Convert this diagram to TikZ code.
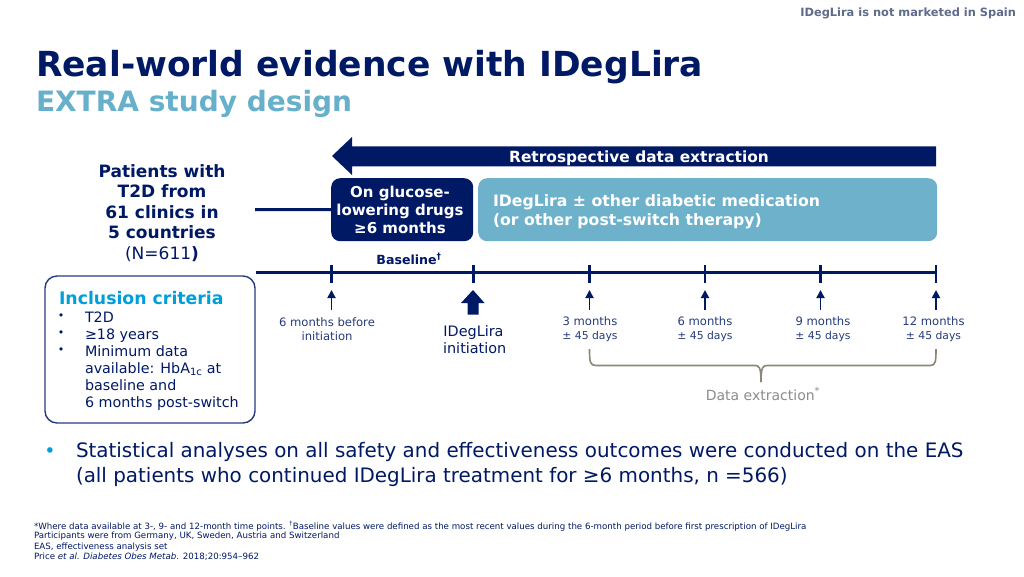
\documentclass[tikz,border=0pt]{standalone}
\usepackage{fontspec}
\setmainfont{DejaVu Sans}
\usetikzlibrary{arrows.meta}
\definecolor{navy}{HTML}{001965}
\definecolor{lblue}{HTML}{6EB1CB}
\definecolor{tblue}{HTML}{66B0CB}
\definecolor{cyanb}{HTML}{009FDA}
\definecolor{dgray}{HTML}{8C8778}
\definecolor{greyt}{HTML}{8C8C8C}
\definecolor{topg}{HTML}{5F6B8A}
\newcommand{\fs}[1]{\fontsize{#1}{#1}\selectfont}
\newcommand{\smb}{\fontsize{10.8}{11.6}\selectfont}
\tikzset{
 txt/.style={inner sep=0pt,outer sep=0pt,text=navy,align=left},
 ctr/.style={inner sep=0pt,outer sep=0pt,text=navy,align=center},
 axisline/.style={draw=navy,line width=3pt},
 tick/.style={draw=navy,line width=2.8pt},
 uparrow/.style={draw=navy,line width=1.8pt,-{Triangle[width=8pt,length=8pt]},shorten >=0pt},
 foot/.style={txt,font=\fs{8.65}},
 small/.style={ctr,font=\fs{11.6},text=navy!85!white}
}
\begin{document}
\begin{tikzpicture}[x=1pt,y=-1pt]
\useasboundingbox (0,0) rectangle (1024,576);
\fill[white] (0,0) rectangle (1024,576);
\node[txt,anchor=east,text=topg,font=\bfseries\fs{11.4}] (top) at (1016,13) {IDegLira is not marketed in Spain};
\node[txt,anchor=west,font=\bfseries\fs{34.5}] (title) at (36,67) {Real-world evidence with IDegLira};
\node[txt,anchor=west,text=tblue,font=\bfseries\fs{28}] (sub) at (36,104) {EXTRA study design};

% big arrow
\fill[navy] (332,156) -- (352,137) -- (352,146.3) -- (936,146.3) -- (936,166.3) -- (352,166.3) -- (352,175) -- cycle;
\node[ctr,text=white,font=\bfseries\fs{15.4}] (retro) at (639,158) {Retrospective data extraction};

\node[ctr,font=\fs{17},align=center] (pat) at (162,213) {\bfseries Patients with\\[3.5pt]\bfseries T2D from\\[3.5pt]\bfseries 61 clinics in\\[3.5pt]\bfseries 5 countries\\[3.5pt](N=611{\bfseries)}};

\node[fill=navy,rounded corners=9pt,minimum width=142pt,minimum height=63pt,inner sep=0pt,anchor=north west] (glu) at (331,178) {};
\node[ctr,text=white,font=\bfseries\fs{15}] (glut) at (400,210) {On glucose-\\[3pt]lowering drugs\\[3pt]≥6 months};
\node[fill=lblue,rounded corners=9pt,minimum width=459pt,minimum height=63pt,inner sep=0pt,anchor=north west] (ide) at (478,178) {};
\node[txt,anchor=west,text=white,font=\bfseries\fs{15.7}] (idet) at (493,212) {IDegLira ± other diabetic medication\\[3.3pt](or other post-switch therapy)};

\coordinate (pa) at (255,209.5);
\draw[navy,line width=3pt] (pa) -- (glu.west);

\node[txt,anchor=center,font=\bfseries\fs{12.6}] (base) at (409,259) {Baseline\textsuperscript{†}};

% timeline
\coordinate (ts) at (256,272.4);
\coordinate (te) at (936,272.4);
\draw[axisline] (ts) -- (te);
\foreach \n/\x in {a/331.5,b/473.5,c/589.5,d/705,e/820.5,f/936}{
 \coordinate (t\n) at (\x,272);
 \draw[tick] (\x,265) -- (\x,282.5);
}
\foreach \n/\x in {a/331.5,c/589.5,d/705,e/820.5,f/936}{
 \coordinate (u\n) at (\x,310);
 \coordinate (v\n) at (\x,290);
 \draw[uparrow] (u\n) -- (v\n);
}
\fill[navy] (473,290) -- (484.5,303) -- (478.5,303) -- (478.5,314.5) -- (467.5,314.5) -- (467.5,303) -- (461,303) -- cycle;

\node[small] (la) at (327,329.5) {6 months before\\[2.4pt]initiation};
\node[ctr,font=\fs{14.4}] (lb) at (473.5,340) {IDegLira\\[2.6pt]\,initiation};
\node[small] (lc) at (590,329.5) {3 months\\[2.4pt]{\smb ± 45 days}};
\node[small] (ld) at (705,329.5) {6 months\\[2.4pt]{\smb ± 45 days}};
\node[small] (le) at (823,329.5) {9 months\\[2.4pt]{\smb ± 45 days}};
\node[small] (lf) at (933.5,329.5) {12 months\\[2.4pt]{\smb ± 45 days}};

% brace
\draw[dgray,line width=1.6pt,line join=round] (589.5,349) .. controls (589.5,362) and (590,365.5) .. (596,365.5) -- (755,365.5) .. controls (759,365.5) and (761,367) .. (761,382);
\draw[dgray,line width=1.6pt,line join=round] (936,349) .. controls (936,362) and (935.5,365.5) .. (930,365.5) -- (767,365.5) .. controls (763,365.5) and (761,367) .. (761,382);
\node[ctr,text=greyt,font=\fs{14}] (dx) at (763,394) {Data extraction\textsuperscript{*}};

% inclusion
\draw[navy!85!white,line width=1.4pt,rounded corners=12pt] (45,276) rectangle (255,423);
\node[txt,anchor=west,text=cyanb,font=\bfseries\fs{17.3}] (inc) at (59,298) {Inclusion criteria};
\foreach \y in {317,334,351}{\node[txt,font=\fs{11}] at (61,\y) {•};}
\node[txt,anchor=north west,font=\fs{14.3},align=left] (list) at (85,311.5) {T2D\\[2.7pt]≥18 years\\[2.7pt]Minimum data\\[2.7pt]available: HbA\textsubscript{1c} at\\[2.7pt]baseline and\\[2.7pt]6 months post-switch};

% statement
\node[txt,text=cyanb,font=\fs{19}] (bul) at (50,453) {•};
\node[txt,anchor=north west,font=\fs{19.9},align=left] (st) at (76,442) {Statistical analyses on all safety and effectiveness outcomes were conducted on the EAS\\[5pt](all patients who continued IDegLira treatment for ≥6 months, n =566)};

% footnotes
\node[foot,anchor=west] (f1) at (34,526) {*Where data available at 3-, 9- and 12-month time points. \textsuperscript{†}Baseline values were defined as the most recent values during the 6-month period before first prescription of IDegLira};
\node[foot,anchor=west] (f2) at (34,536.5) {Participants were from Germany, UK, Sweden, Austria and Switzerland};
\node[foot,anchor=west] (f3) at (34,547) {EAS, effectiveness analysis set};
\node[foot,anchor=west] (f4) at (34,557) {Price \textit{et al. Diabetes Obes Metab}. 2018;20:954–962};
\end{tikzpicture}
\end{document}
